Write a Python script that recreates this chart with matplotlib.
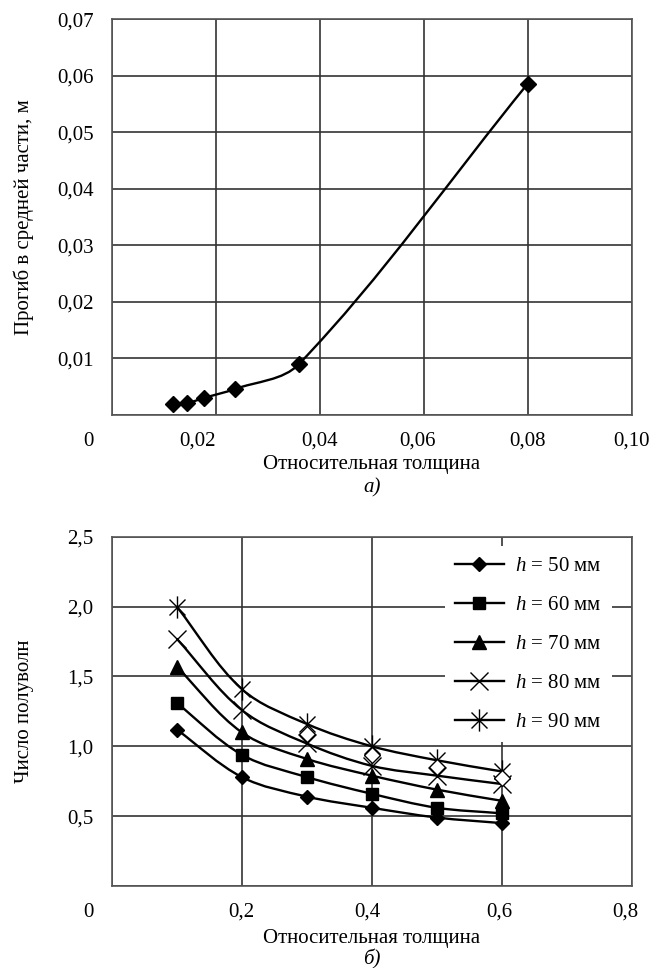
import numpy as np
import matplotlib
matplotlib.use("Agg")
import matplotlib.pyplot as plt
from matplotlib.path import Path
from matplotlib.patches import PathPatch
from matplotlib.lines import Line2D

plt.rcParams['font.family'] = ['Liberation Serif', 'DejaVu Serif']
plt.rcParams['mathtext.fontset'] = 'custom'
plt.rcParams['mathtext.it'] = 'Liberation Serif:italic'
plt.rcParams['mathtext.rm'] = 'Liberation Serif'

# --- chart a) ---
thick_a = [0.0117, 0.0145, 0.0177, 0.0237, 0.0360, 0.0800]
defl_a = [0.0020, 0.0021, 0.0030, 0.0046, 0.0090, 0.0586]
xticks_a = [0, 0.02, 0.04, 0.06, 0.08, 0.10]
xticklabels_a = ["0", "0,02", "0,04", "0,06", "0,08", "0,10"]
xlabel_shift_a = [-23, -18, 0, -6, 0, 0]   # px, labels in the source are not on the grid
yticks_a = [0, 0.01, 0.02, 0.03, 0.04, 0.05, 0.06, 0.07]
yticklabels_a = ["", "0,01", "0,02", "0,03", "0,04", "0,05", "0,06", "0,07"]

# --- chart б) ---
thick_b = [0.1, 0.2, 0.3, 0.4, 0.5, 0.6]
h50 = [1.12, 0.78, 0.64, 0.56, 0.49, 0.45]
h60 = [1.31, 0.94, 0.78, 0.66, 0.56, 0.52]
h70 = [1.57, 1.10, 0.91, 0.79, 0.69, 0.61]
h80 = [1.77, 1.26, 1.02, 0.86, 0.79, 0.73]
h90 = [2.00, 1.41, 1.16, 1.00, 0.90, 0.82]
series_labels = ["50", "60", "70", "80", "90"]
stray_x = [0.3, 0.4, 0.5, 0.6]          # hollow diamonds left in the source picture
stray_y = [1.09, 0.94, 0.85, 0.77]
xticks_b = [0, 0.2, 0.4, 0.6, 0.8]
xticklabels_b = ["0", "0,2", "0,4", "0,6", "0,8"]
xlabel_shift_b = [-23, 0, -4, -2, -6]
yticks_b = [0, 0.5, 1.0, 1.5, 2.0, 2.5]
yticklabels_b = ["", "0,5", "1,0", "1,5", "2,0", "2,5"]

GRID = '#333333'
FS = 15

# excel-like asterisk: vertical bar + X
star = Path([(0, -1), (0, 1), (-0.72, -0.72), (0.72, 0.72), (-0.72, 0.72), (0.72, -0.72)],
            [Path.MOVETO, Path.LINETO, Path.MOVETO, Path.LINETO, Path.MOVETO, Path.LINETO])


def smooth_path(xs, ys, sx, sy):
    # bezier through the points; tangents taken in screen-like units (sx, sy = px per data unit)
    P = np.column_stack([np.asarray(xs) * sx, np.asarray(ys) * sy])
    n = len(P)
    tang = []
    for i in range(n):
        d = P[min(i + 1, n - 1)] - P[max(i - 1, 0)]
        tang.append(d / np.hypot(*d))
    verts = [P[0]]
    codes = [Path.MOVETO]
    for i in range(n - 1):
        L = np.hypot(*(P[i + 1] - P[i])) / 3
        verts += [P[i] + tang[i] * L, P[i + 1] - tang[i + 1] * L, P[i + 1]]
        codes += [Path.CURVE4] * 3
    verts = np.array(verts) / [sx, sy]
    return Path(verts, codes)


def style_axes(ax, xticks, xlabels, shifts, yticks, ylabels):
    ax.set_xticks(xticks)
    ax.set_xticklabels([""] * len(xticks))
    ax.set_yticks(yticks)
    ax.set_yticklabels(ylabels, fontsize=FS)
    ax.tick_params(length=0)
    ax.tick_params(axis='y', pad=13)
    ax.set_axisbelow(True)
    ax.grid(True, color=GRID, lw=1.2)
    for s in ax.spines.values():
        s.set_color('#555555')
        s.set_linewidth(1.2)
    for v, lab, dx in zip(xticks, xlabels, shifts):
        ax.annotate(lab, xy=(v, 0), xycoords=('data', 'axes fraction'),
                    xytext=(dx, -17), textcoords='offset pixels',
                    ha='center', va='top', fontsize=FS, annotation_clip=False)


fig = plt.figure(figsize=(6.53, 9.68), dpi=100)

ax1 = fig.add_axes([0.1711, 0.5713, 0.7963, 0.4088])
ax1.set_xlim(0, 0.10)
ax1.set_ylim(0, 0.07)
style_axes(ax1, xticks_a, xticklabels_a, xlabel_shift_a, yticks_a, yticklabels_a)
ax1.add_patch(PathPatch(smooth_path(thick_a, defl_a, 5200, 5660), fill=False, ec='black', lw=1.7, zorder=3))
ax1.plot(thick_a, defl_a, ls='none', marker='D', ms=8, color='black', zorder=4)
ax1.set_xlabel("Относительная толщина", fontsize=FS)
ax1.xaxis.set_label_coords(0.5, -0.1)
ax1.set_ylabel("Прогиб в средней части, м", fontsize=FS)
ax1.yaxis.set_label_coords(-0.15, 0.5)
fig.text(0.5695, 0.4955, "а)", fontsize=FS, style='italic', ha='center', va='center')

ax2 = fig.add_axes([0.1711, 0.0847, 0.7963, 0.3609])
ax2.set_xlim(0, 0.8)
ax2.set_ylim(0, 2.5)
style_axes(ax2, xticks_b, xticklabels_b, xlabel_shift_b, yticks_b, yticklabels_b)

markers = [dict(marker='D', ms=7, mew=1),
           dict(marker='s', ms=8, mew=1),
           dict(marker='^', ms=10, mew=1),
           dict(marker='x', ms=13, mew=1),
           dict(marker=star, ms=16, mew=1)]
handles = []
for ys, lab, mk in zip([h50, h60, h70, h80, h90], series_labels, markers):
    ax2.add_patch(PathPatch(smooth_path(thick_b, ys, 650, 140), fill=False, ec='black', lw=1.7, zorder=3))
    ax2.plot(thick_b, ys, ls='none', color='black', zorder=4, **mk)
    handles.append(Line2D([], [], color='black', lw=1.7, label=r"$h$ = " + lab + " мм", **mk))
ax2.plot(stray_x, stray_y, ls='none', marker='D', ms=8, mfc='white', mec='black', mew=1, zorder=4)

leg = ax2.legend(handles=handles, loc='upper right', bbox_to_anchor=(0.983, 1.003),
                 fontsize=15, frameon=True, facecolor='white', edgecolor='none', framealpha=1,
                 fancybox=False, handlelength=2.35, handletextpad=0.55, labelspacing=0.93,
                 borderpad=0.5)
leg.set_zorder(5)

ax2.set_xlabel("Относительная толщина", fontsize=FS)
ax2.xaxis.set_label_coords(0.5, -0.122)
ax2.set_ylabel("Число полуволн", fontsize=FS)
ax2.yaxis.set_label_coords(-0.15, 0.5)
fig.text(0.5695, 0.0085, "б)", fontsize=FS, style='italic', ha='center', va='center')

fig.savefig("out.png", dpi=100)
